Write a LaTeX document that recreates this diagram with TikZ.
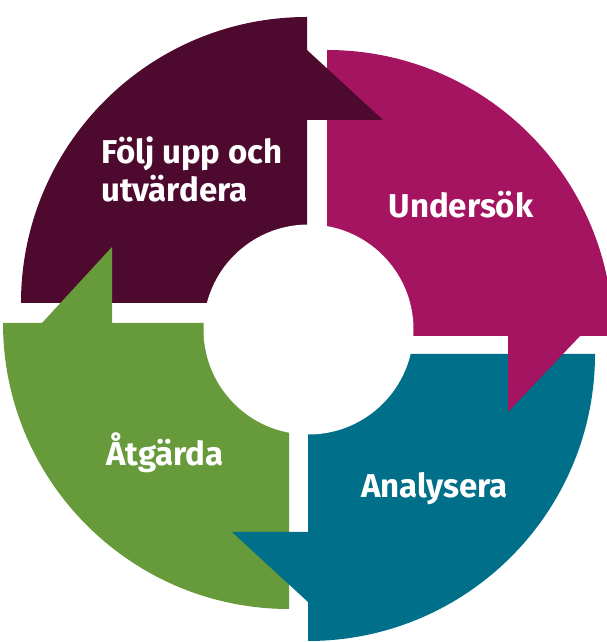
\documentclass[tikz,border=0pt]{standalone}
\usepackage{fontspec}
\setmainfont{Fira Sans}
\usetikzlibrary{calc}
\definecolor{plum}{HTML}{4D0A2E}
\definecolor{cerise}{HTML}{A51461}
\definecolor{petrol}{HTML}{006F89}
\definecolor{moss}{HTML}{669A3B}
\def\sector[#1](#2)(#3:#4:#5){\fill[#1] (#2) -- ++(#3:#5) arc (#3:#4:#5) -- cycle;}
\tikzset{steplabel/.style={text=white, font=\bfseries\fontsize{33}{38}\selectfont, inner sep=0pt}}

\begin{document}
\begin{tikzpicture}[x=1pt, y=1pt]
		%%%%% START %%%%%
		\useasboundingbox (0, 0) rectangle (606, 642);
		
		\sector[plum](307, 339)(90:180:286);
		\sector[cerise](327, 306)(0:90:286);
		\sector[petrol](308, 288)(270:360:287);
		\sector[moss](289, 319)(180:270:286);
		
		\fill[white] (308.5, 312.5) circle (105);
		
		\fill[plum] (307, 592) -- (383, 522) -- (307, 522) -- cycle;
		\fill[cerise] (580, 306) -- (508, 230) -- (508, 306) -- cycle;
		\fill[petrol] (308, 40) -- (232, 110) -- (308, 110) -- cycle;
		\fill[moss] (42, 319) -- (112, 395) -- (112, 319) -- cycle;
		
		\node[steplabel, align=left, anchor=north west] (follow) at (101, 505) {Följ upp och\\utvärdera};
		\node[steplabel, anchor=base] (explore) at (461, 424) {Undersök};
		\node[steplabel, anchor=base] (analyse) at (434.5, 144) {Analysera};
		\node[steplabel, anchor=base] (act) at (165, 176) {Åtgärda};
		%%%%% END %%%%%
	\end{tikzpicture}
\end{document}
